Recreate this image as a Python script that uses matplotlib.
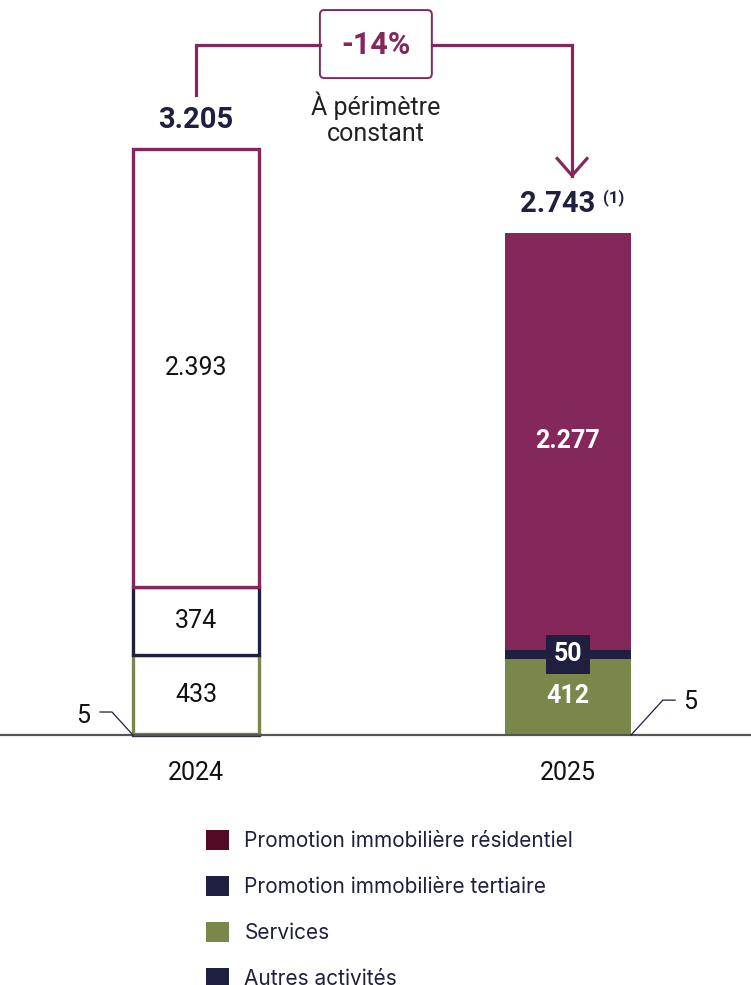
import matplotlib.pyplot as plt
from matplotlib.patches import FancyBboxPatch, Patch

years = ['2024', '2025']
totals = [3205, 2743]
autres = [5, 5]
services = [433, 412]
tertiaire = [374, 50]
residentiel = [2393, 2277]
variation = '-14%'

legend_labels = ['Promotion immobilière résidentiel', 'Promotion immobilière tertiaire',
                 'Services', 'Autres activités']
legend_colors = ['#530a24', '#1f1f3f', '#7a874b', '#1f1f3f']

c_res = '#84285c'
c_ter = '#1f1f3f'
c_ser = '#7a874b'
navy = '#1f1f3f'

plt.rcParams['font.family'] = ['Roboto', 'DejaVu Sans']

fig = plt.figure(figsize=(7.51, 9.85), dpi=100)
ax = fig.add_axes([0, 0, 1, 1])
ax.set_xlim(-0.527, 1.492)
ax.set_ylim(-1367, 4020)
ax.axis('off')

w = 0.339
x = [0, 1]
fs = 18

# 2024 : contours seulement
segs = [(autres, navy), (services, c_ser), (tertiaire, c_ter), (residentiel, c_res)]
bottom = 0
for vals, col in segs:
    ax.bar(x[0], vals[0], w, bottom=bottom, facecolor='white', edgecolor=col, linewidth=2.4, zorder=3)
    bottom += vals[0]

# 2025 : barres pleines
bottom = 0
for vals, col in segs:
    ax.bar(x[1], vals[1], w, bottom=bottom, color=col, linewidth=0, zorder=3)
    bottom += vals[1]

ax.axhline(0, color='#555555', lw=1.6, zorder=4)

# valeurs dans les barres
b0 = autres[0]
ax.text(x[0], b0 + services[0] / 2, f'{services[0]}', ha='center', va='center', fontsize=fs, color='#111111', zorder=5)
b0 += services[0]
ax.text(x[0], b0 + tertiaire[0] / 2, f'{tertiaire[0]}', ha='center', va='center', fontsize=fs, color='#111111', zorder=5)
b0 += tertiaire[0]
ax.text(x[0], b0 + residentiel[0] / 2, f'{residentiel[0] / 1000:.3f}', ha='center', va='center', fontsize=fs, color='#111111', zorder=5)

b1 = autres[1]
ax.text(x[1], b1 + services[1] / 2, f'{services[1]}', ha='center', va='center', fontsize=fs, color='white', fontweight='bold', zorder=5)
b1 += services[1]
ax.text(x[1], b1 + tertiaire[1] / 2, f'{tertiaire[1]}', ha='center', va='center', fontsize=fs, color='white', fontweight='bold', zorder=5,
        bbox=dict(boxstyle='square,pad=0.3', facecolor=navy, edgecolor='none'))
b1 += tertiaire[1]
ax.text(x[1], b1 + residentiel[1] / 2, f'{residentiel[1] / 1000:.3f}', ha='center', va='center', fontsize=fs, color='white', fontweight='bold', zorder=5)

# totaux
ax.text(x[0], totals[0] + 160, f'{totals[0] / 1000:.3f}', ha='center', va='center', fontsize=21, fontweight='bold', color=navy)
ax.text(x[1] - 0.027, totals[1] + 160, f'{totals[1] / 1000:.3f}', ha='center', va='center', fontsize=21, fontweight='bold', color=navy)
ax.text(x[1] + 0.095, totals[1] + 194, '(1)', ha='left', va='center', fontsize=12, fontweight='bold', color=navy)

# années
for xi, yr in zip(x, years):
    ax.text(xi, -208, yr, ha='center', va='center', fontsize=fs, color='#111111')

# étiquettes "5"
ax.plot([x[0] - w / 2, -0.226, -0.258], [0, 126, 126], color=navy, lw=0.9, zorder=5)
ax.text(-0.304, 104, f'{autres[0]}', ha='center', va='center', fontsize=fs, color='#111111')
ax.plot([x[1] + w / 2, 1.255, 1.288], [0, 191, 191], color=navy, lw=0.9, zorder=5)
ax.text(1.328, 180, f'{autres[1]}', ha='center', va='center', fontsize=fs, color='#111111')

# flèche de variation
top = 3774
ax.plot([x[0], x[0], 0.333], [3500, top, top], color=c_res, lw=2.3, solid_joinstyle='miter')
ax.plot([0.634, 1.011, 1.011], [top, top, 3060], color=c_res, lw=2.3, solid_joinstyle='miter')
ax.plot([0.971, 1.011, 1.051], [3153, 3060, 3153], color=c_res, lw=2.3)
box = FancyBboxPatch((0.333, 3593), 0.301, 372, boxstyle='round,pad=0,rounding_size=0.012',
                     mutation_aspect=2034, facecolor='white', edgecolor=c_res, lw=1.4)
ax.add_patch(box)
ax.text(0.4835, top, variation, ha='center', va='center', fontsize=22, fontweight='bold', color=c_res)
ax.text(0.4835, 3370, 'À périmètre\nconstant', ha='center', va='center', fontsize=18, color='#222222', linespacing=1.1)

# légende
handles = [Patch(facecolor=c, edgecolor='none') for c in legend_colors]
leg = fig.legend(handles, legend_labels, loc='upper left', bbox_to_anchor=(0.274, 0.1575),
                 frameon=False, handlelength=1.1, handleheight=1.1,
                 handletextpad=0.75, labelspacing=1.2, borderpad=0, borderaxespad=0,
                 prop={'family': ['Inter', 'DejaVu Sans'], 'size': 15})
for t in leg.get_texts():
    t.set_color(navy)

fig.savefig('out.png', dpi=100)
